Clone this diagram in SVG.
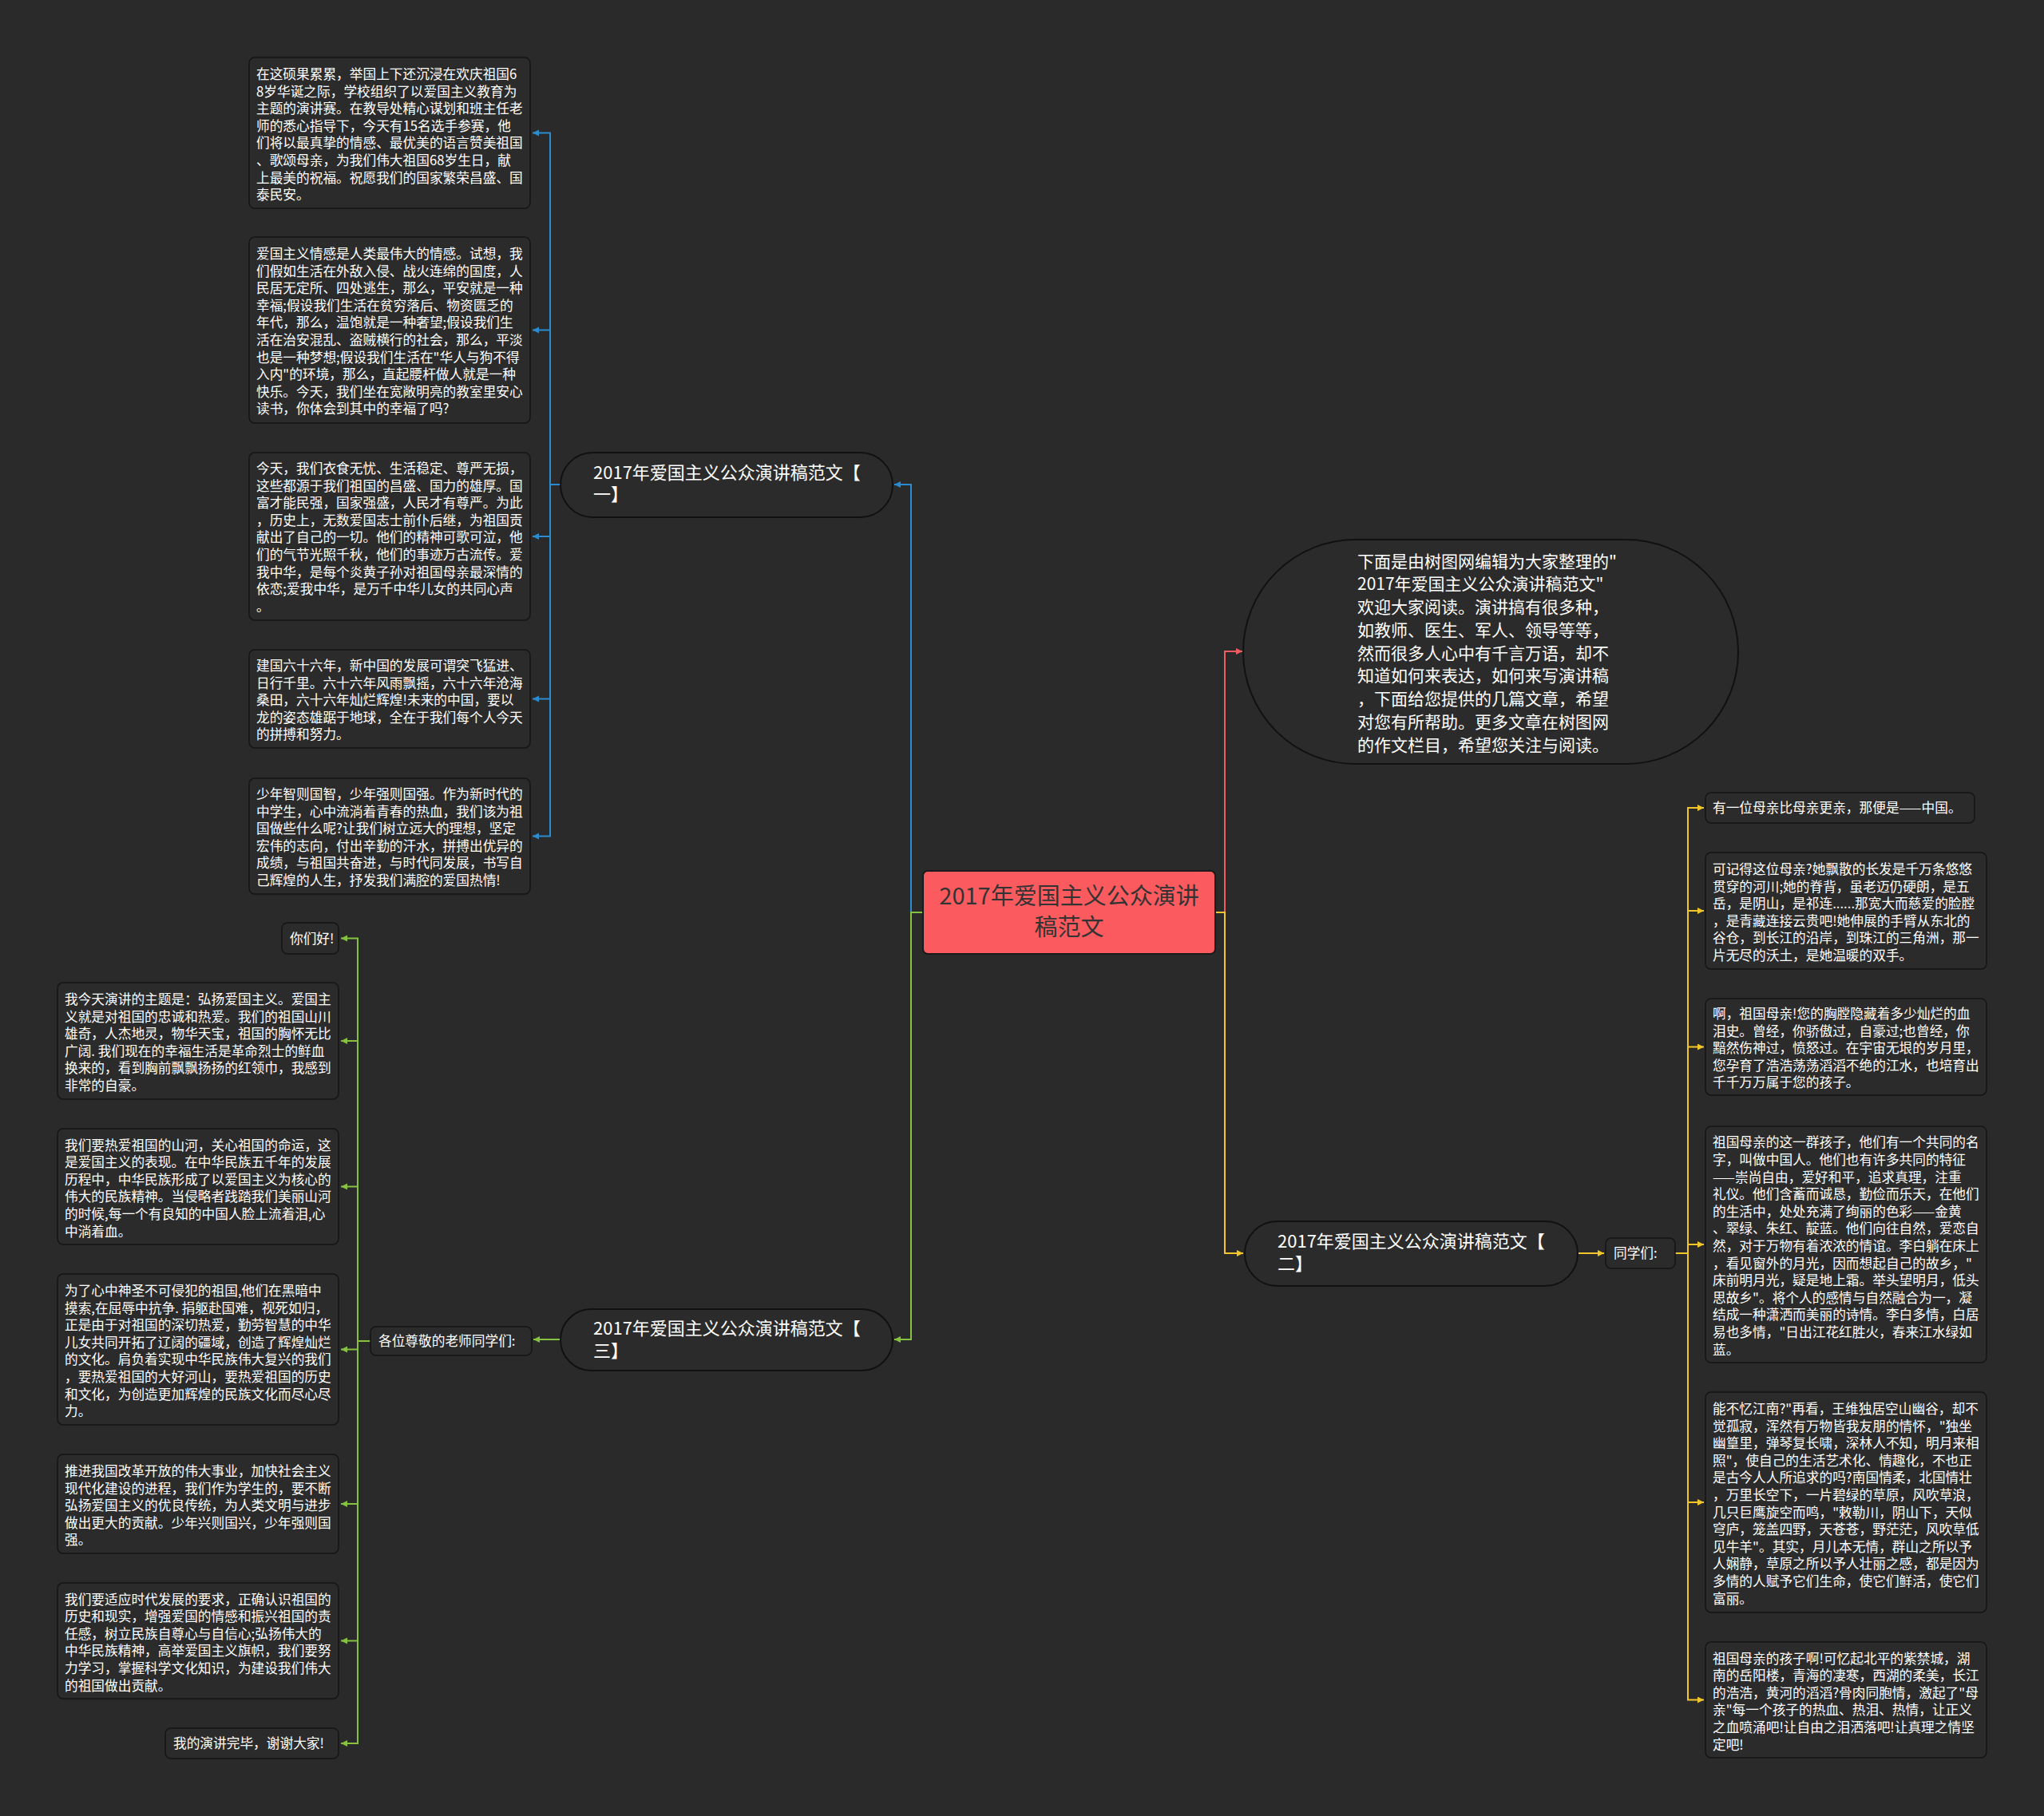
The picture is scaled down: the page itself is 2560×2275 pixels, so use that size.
<svg xmlns="http://www.w3.org/2000/svg" width="2560" height="2275" viewBox="0 0 2560 2275">
<defs>
<style>
.bg{fill:#2a2a2a}
.box{fill:#2b2b2b;stroke:#151515;stroke-width:1.5}
.pill{fill:#2b2b2b;stroke:#111;stroke-width:2}
.t{font-family:"Noto Sans CJK SC","Liberation Sans",sans-serif;font-size:16.7px;fill:#ffffff}
.tb{font-family:"Noto Sans CJK SC","Liberation Sans",sans-serif;font-size:22px;fill:#ffffff}
.ti{font-family:"Noto Sans CJK SC","Liberation Sans",sans-serif;font-size:21px;fill:#ffffff}
.tc{font-family:"Noto Sans CJK SC","Liberation Sans",sans-serif;font-size:29px;fill:#333333}
.c{fill:none;stroke-width:2}
.blue{stroke:#2a8bd0}
.green{stroke:#84c23f}
.yellow{stroke:#f2c52a}
.red{stroke:#ef5d60}
</style>
<marker id="ab" markerUnits="userSpaceOnUse" markerWidth="10" markerHeight="10" refX="8" refY="4" orient="auto"><path d="M0,0 L8,4 L0,8 z" fill="#2a8bd0"/></marker>
<marker id="ag" markerUnits="userSpaceOnUse" markerWidth="10" markerHeight="10" refX="8" refY="4" orient="auto"><path d="M0,0 L8,4 L0,8 z" fill="#84c23f"/></marker>
<marker id="ay" markerUnits="userSpaceOnUse" markerWidth="10" markerHeight="10" refX="8" refY="4" orient="auto"><path d="M0,0 L8,4 L0,8 z" fill="#f2c52a"/></marker>
<marker id="ar" markerUnits="userSpaceOnUse" markerWidth="10" markerHeight="10" refX="8" refY="4" orient="auto"><path d="M0,0 L8,4 L0,8 z" fill="#ef5d60"/></marker>
</defs>
<rect class="bg" x="0" y="0" width="2560" height="2275"/>

<g id="connectors">
<path class="c blue" d="M1156,1143 H1141 V607 H1120" marker-end="url(#ab)"/>
<path class="c green" d="M1156,1143 H1141 V1678 H1120" marker-end="url(#ag)"/>
<path class="c red" d="M1522,1143 H1534 V816 H1556" marker-end="url(#ar)"/>
<path class="c yellow" d="M1522,1143 H1534 V1570 H1557" marker-end="url(#ay)"/>
<path class="c blue" d="M702,607 H689 V166.5 H667" marker-end="url(#ab)"/>
<path class="c blue" d="M702,607 H689 V413.5 H667" marker-end="url(#ab)"/>
<path class="c blue" d="M702,607 H689 V672 H667" marker-end="url(#ab)"/>
<path class="c blue" d="M702,607 H689 V875.5 H667" marker-end="url(#ab)"/>
<path class="c blue" d="M702,607 H689 V1047.5 H667" marker-end="url(#ab)"/>
<path class="c green" d="M702,1678 H668" marker-end="url(#ag)"/>
<path class="c green" d="M464,1680 H448 V1175.5 H427" marker-end="url(#ag)"/>
<path class="c green" d="M464,1680 H448 V1304 H427" marker-end="url(#ag)"/>
<path class="c green" d="M464,1680 H448 V1486.5 H427" marker-end="url(#ag)"/>
<path class="c green" d="M464,1680 H448 V1690.5 H427" marker-end="url(#ag)"/>
<path class="c green" d="M464,1680 H448 V1884 H427" marker-end="url(#ag)"/>
<path class="c green" d="M464,1680 H448 V2055.5 H427" marker-end="url(#ag)"/>
<path class="c green" d="M464,1680 H448 V2184 H427" marker-end="url(#ag)"/>
<path class="c yellow" d="M1976,1570 H2009" marker-end="url(#ay)"/>
<path class="c yellow" d="M2098,1570 H2114 V1012 H2134" marker-end="url(#ay)"/>
<path class="c yellow" d="M2098,1570 H2114 V1141 H2134" marker-end="url(#ay)"/>
<path class="c yellow" d="M2098,1570 H2114 V1311.5 H2134" marker-end="url(#ay)"/>
<path class="c yellow" d="M2098,1570 H2114 V1559 H2134" marker-end="url(#ay)"/>
<path class="c yellow" d="M2098,1570 H2114 V1882 H2134" marker-end="url(#ay)"/>
<path class="c yellow" d="M2098,1570 H2114 V2129.5 H2134" marker-end="url(#ay)"/>
</g>

<g id="root">
<rect x="1156" y="1091" width="366" height="104" rx="6" fill="#fb5b5f" stroke="#1a1a1a" stroke-width="2"/>
<text class="tc" text-anchor="middle"><tspan x="1339" y="1133">2017年爱国主义公众演讲</tspan><tspan x="1339" y="1172">稿范文</tspan></text>
</g>

<g id="branch1">
<rect class="pill" x="702" y="567" width="416" height="81" rx="40.5"/>
<text class="tb"><tspan x="743" y="600">2017年爱国主义公众演讲稿范文【</tspan><tspan x="743" y="627">一】</tspan></text>
</g>
<g id="branch3">
<rect class="pill" x="702" y="1640" width="416" height="77" rx="38.5"/>
<text class="tb"><tspan x="743" y="1672">2017年爱国主义公众演讲稿范文【</tspan><tspan x="743" y="1700">三】</tspan></text>
</g>
<g id="branch2">
<rect class="pill" x="1559" y="1530" width="417" height="81" rx="40.5"/>
<text class="tb"><tspan x="1600" y="1563">2017年爱国主义公众演讲稿范文【</tspan><tspan x="1600" y="1591">二】</tspan></text>
</g>
<g id="intro">
<rect class="pill" x="1557" y="676" width="620" height="281" rx="140.5"/>
<text class="ti"><tspan x="1700" y="710.5">下面是由树图网编辑为大家整理的"</tspan><tspan x="1700" dy="28.75">2017年爱国主义公众演讲稿范文"</tspan><tspan x="1700" dy="28.75">欢迎大家阅读。演讲搞有很多种，</tspan><tspan x="1700" dy="28.75">如教师、医生、军人、领导等等，</tspan><tspan x="1700" dy="28.75">然而很多人心中有千言万语，却不</tspan><tspan x="1700" dy="28.75">知道如何来表达，如何来写演讲稿</tspan><tspan x="1700" dy="28.75">，下面给您提供的几篇文章，希望</tspan><tspan x="1700" dy="28.75">对您有所帮助。更多文章在树图网</tspan><tspan x="1700" dy="28.75">的作文栏目，希望您关注与阅读。</tspan></text>
</g>

<g id="b1-1">
<rect class="box" x="312" y="72" width="352" height="189" rx="7"/>
<text class="t"><tspan x="321" y="99">在这硕果累累，举国上下还沉浸在欢庆祖国6</tspan><tspan x="321" dy="21.6">8岁华诞之际，学校组织了以爱国主义教育为</tspan><tspan x="321" dy="21.6">主题的演讲赛。在教导处精心谋划和班主任老</tspan><tspan x="321" dy="21.6">师的悉心指导下，今天有15名选手参赛，他</tspan><tspan x="321" dy="21.6">们将以最真挚的情感、最优美的语言赞美祖国</tspan><tspan x="321" dy="21.6">、歌颂母亲，为我们伟大祖国68岁生日，献</tspan><tspan x="321" dy="21.6">上最美的祝福。祝愿我们的国家繁荣昌盛、国</tspan><tspan x="321" dy="21.6">泰民安。</tspan></text>
</g>
<g id="b1-2">
<rect class="box" x="312" y="297" width="352" height="233" rx="7"/>
<text class="t"><tspan x="321" y="324">爱国主义情感是人类最伟大的情感。试想，我</tspan><tspan x="321" dy="21.6">们假如生活在外敌入侵、战火连绵的国度，人</tspan><tspan x="321" dy="21.6">民居无定所、四处逃生，那么，平安就是一种</tspan><tspan x="321" dy="21.6">幸福;假设我们生活在贫穷落后、物资匮乏的</tspan><tspan x="321" dy="21.6">年代，那么，温饱就是一种奢望;假设我们生</tspan><tspan x="321" dy="21.6">活在治安混乱、盗贼横行的社会，那么，平淡</tspan><tspan x="321" dy="21.6">也是一种梦想;假设我们生活在"华人与狗不得</tspan><tspan x="321" dy="21.6">入内"的环境，那么，直起腰杆做人就是一种</tspan><tspan x="321" dy="21.6">快乐。今天，我们坐在宽敞明亮的教室里安心</tspan><tspan x="321" dy="21.6">读书，你体会到其中的幸福了吗?</tspan></text>
</g>
<g id="b1-3">
<rect class="box" x="312" y="567" width="352" height="210" rx="7"/>
<text class="t"><tspan x="321" y="593">今天，我们衣食无忧、生活稳定、尊严无损，</tspan><tspan x="321" dy="21.6">这些都源于我们祖国的昌盛、国力的雄厚。国</tspan><tspan x="321" dy="21.6">富才能民强，国家强盛，人民才有尊严。为此</tspan><tspan x="321" dy="21.6">，历史上，无数爱国志士前仆后继，为祖国贡</tspan><tspan x="321" dy="21.6">献出了自己的一切。他们的精神可歌可泣，他</tspan><tspan x="321" dy="21.6">们的气节光照千秋，他们的事迹万古流传。爱</tspan><tspan x="321" dy="21.6">我中华，是每个炎黄子孙对祖国母亲最深情的</tspan><tspan x="321" dy="21.6">依恋;爱我中华，是万千中华儿女的共同心声</tspan><tspan x="321" dy="21.6">。</tspan></text>
</g>
<g id="b1-4">
<rect class="box" x="312" y="814" width="352" height="123" rx="7"/>
<text class="t"><tspan x="321" y="840">建国六十六年，新中国的发展可谓突飞猛进、</tspan><tspan x="321" dy="21.6">日行千里。六十六年风雨飘摇，六十六年沧海</tspan><tspan x="321" dy="21.6">桑田，六十六年灿烂辉煌!未来的中国，要以</tspan><tspan x="321" dy="21.6">龙的姿态雄踞于地球，全在于我们每个人今天</tspan><tspan x="321" dy="21.6">的拼搏和努力。</tspan></text>
</g>
<g id="b1-5">
<rect class="box" x="312" y="975" width="352" height="145" rx="7"/>
<text class="t"><tspan x="321" y="1001">少年智则国智，少年强则国强。作为新时代的</tspan><tspan x="321" dy="21.6">中学生，心中流淌着青春的热血，我们该为祖</tspan><tspan x="321" dy="21.6">国做些什么呢?让我们树立远大的理想，坚定</tspan><tspan x="321" dy="21.6">宏伟的志向，付出辛勤的汗水，拼搏出优异的</tspan><tspan x="321" dy="21.6">成绩，与祖国共奋进，与时代同发展，书写自</tspan><tspan x="321" dy="21.6">己辉煌的人生，抒发我们满腔的爱国热情!</tspan></text>
</g>

<g id="b3-0">
<rect class="box" x="464" y="1662" width="202" height="36" rx="7"/>
<text class="t"><tspan x="474" y="1686">各位尊敬的老师同学们:</tspan></text>
</g>
<g id="b3-1">
<rect class="box" x="353" y="1156" width="71" height="39" rx="7"/>
<text class="t"><tspan x="363" y="1182">你们好!</tspan></text>
</g>
<g id="b3-2">
<rect class="box" x="72" y="1231" width="352" height="146" rx="7"/>
<text class="t"><tspan x="81" y="1258">我今天演讲的主题是：弘扬爱国主义。爱国主</tspan><tspan x="81" dy="21.6">义就是对祖国的忠诚和热爱。我们的祖国山川</tspan><tspan x="81" dy="21.6">雄奇，人杰地灵，物华天宝，祖国的胸怀无比</tspan><tspan x="81" dy="21.6">广阔. 我们现在的幸福生活是革命烈士的鲜血</tspan><tspan x="81" dy="21.6">换来的，看到胸前飘飘扬扬的红领巾，我感到</tspan><tspan x="81" dy="21.6">非常的自豪。</tspan></text>
</g>
<g id="b3-3">
<rect class="box" x="72" y="1414" width="352" height="145" rx="7"/>
<text class="t"><tspan x="81" y="1440.5">我们要热爱祖国的山河，关心祖国的命运，这</tspan><tspan x="81" dy="21.6">是爱国主义的表现。在中华民族五千年的发展</tspan><tspan x="81" dy="21.6">历程中，中华民族形成了以爱国主义为核心的</tspan><tspan x="81" dy="21.6">伟大的民族精神。当侵略者践踏我们美丽山河</tspan><tspan x="81" dy="21.6">的时候,每一个有良知的中国人脸上流着泪,心</tspan><tspan x="81" dy="21.6">中淌着血。</tspan></text>
</g>
<g id="b3-4">
<rect class="box" x="72" y="1596" width="352" height="189" rx="7"/>
<text class="t"><tspan x="81" y="1623">为了心中神圣不可侵犯的祖国,他们在黑暗中</tspan><tspan x="81" dy="21.6">摸索,在屈辱中抗争. 捐躯赴国难，视死如归，</tspan><tspan x="81" dy="21.6">正是由于对祖国的深切热爱，勤劳智慧的中华</tspan><tspan x="81" dy="21.6">儿女共同开拓了辽阔的疆域，创造了辉煌灿烂</tspan><tspan x="81" dy="21.6">的文化。肩负着实现中华民族伟大复兴的我们</tspan><tspan x="81" dy="21.6">，要热爱祖国的大好河山，要热爱祖国的历史</tspan><tspan x="81" dy="21.6">和文化，为创造更加辉煌的民族文化而尽心尽</tspan><tspan x="81" dy="21.6">力。</tspan></text>
</g>
<g id="b3-5">
<rect class="box" x="72" y="1822" width="352" height="124" rx="7"/>
<text class="t"><tspan x="81" y="1849">推进我国改革开放的伟大事业，加快社会主义</tspan><tspan x="81" dy="21.6">现代化建设的进程，我们作为学生的，要不断</tspan><tspan x="81" dy="21.6">弘扬爱国主义的优良传统，为人类文明与进步</tspan><tspan x="81" dy="21.6">做出更大的贡献。少年兴则国兴，少年强则国</tspan><tspan x="81" dy="21.6">强。</tspan></text>
</g>
<g id="b3-6">
<rect class="box" x="72" y="1983" width="352" height="145" rx="7"/>
<text class="t"><tspan x="81" y="2009.5">我们要适应时代发展的要求，正确认识祖国的</tspan><tspan x="81" dy="21.6">历史和现实，增强爱国的情感和振兴祖国的责</tspan><tspan x="81" dy="21.6">任感，树立民族自尊心与自信心;弘扬伟大的</tspan><tspan x="81" dy="21.6">中华民族精神，高举爱国主义旗帜，我们要努</tspan><tspan x="81" dy="21.6">力学习，掌握科学文化知识，为建设我们伟大</tspan><tspan x="81" dy="21.6">的祖国做出贡献。</tspan></text>
</g>
<g id="b3-7">
<rect class="box" x="207" y="2165" width="217" height="38" rx="7"/>
<text class="t"><tspan x="217" y="2190">我的演讲完毕，谢谢大家!</tspan></text>
</g>

<g id="b2-0">
<rect class="box" x="2011" y="1551" width="87" height="38" rx="7"/>
<text class="t"><tspan x="2021" y="1576">同学们:</tspan></text>
</g>
<g id="b2-1">
<rect class="box" x="2136" y="993" width="337" height="38" rx="7"/>
<text class="t"><tspan x="2145" y="1018">有一位母亲比母亲更亲，那便是——中国。</tspan></text>
</g>
<g id="b2-2">
<rect class="box" x="2136" y="1068" width="352" height="146" rx="7"/>
<text class="t"><tspan x="2145" y="1095">可记得这位母亲?她飘散的长发是千万条悠悠</tspan><tspan x="2145" dy="21.6">贯穿的河川;她的脊背，虽老迈仍硬朗，是五</tspan><tspan x="2145" dy="21.6">岳，是阴山，是祁连......那宽大而慈爱的脸膛</tspan><tspan x="2145" dy="21.6">，是青藏连接云贵吧!她伸展的手臂从东北的</tspan><tspan x="2145" dy="21.6">谷仓，到长江的沿岸，到珠江的三角洲，那一</tspan><tspan x="2145" dy="21.6">片无尽的沃土，是她温暖的双手。</tspan></text>
</g>
<g id="b2-3">
<rect class="box" x="2136" y="1251" width="352" height="121" rx="7"/>
<text class="t"><tspan x="2145" y="1276">啊，祖国母亲!您的胸膛隐藏着多少灿烂的血</tspan><tspan x="2145" dy="21.6">泪史。曾经，你骄傲过，自豪过;也曾经，你</tspan><tspan x="2145" dy="21.6">黯然伤神过，愤怒过。在宇宙无垠的岁月里，</tspan><tspan x="2145" dy="21.6">您孕育了浩浩荡荡滔滔不绝的江水，也培育出</tspan><tspan x="2145" dy="21.6">千千万万属于您的孩子。</tspan></text>
</g>
<g id="b2-4">
<rect class="box" x="2136" y="1411" width="352" height="296" rx="7"/>
<text class="t"><tspan x="2145" y="1437.4">祖国母亲的这一群孩子，他们有一个共同的名</tspan><tspan x="2145" dy="21.6">字，叫做中国人。他们也有许多共同的特征</tspan><tspan x="2145" dy="21.6">——崇尚自由，爱好和平，追求真理，注重</tspan><tspan x="2145" dy="21.6">礼仪。他们含蓄而诚恳，勤俭而乐天，在他们</tspan><tspan x="2145" dy="21.6">的生活中，处处充满了绚丽的色彩——金黄</tspan><tspan x="2145" dy="21.6">、翠绿、朱红、靛蓝。他们向往自然，爱恋自</tspan><tspan x="2145" dy="21.6">然，对于万物有着浓浓的情谊。李白躺在床上</tspan><tspan x="2145" dy="21.6">，看见窗外的月光，因而想起自己的故乡，"</tspan><tspan x="2145" dy="21.6">床前明月光，疑是地上霜。举头望明月，低头</tspan><tspan x="2145" dy="21.6">思故乡"。将个人的感情与自然融合为一，凝</tspan><tspan x="2145" dy="21.6">结成一种潇洒而美丽的诗情。李白多情，白居</tspan><tspan x="2145" dy="21.6">易也多情，"日出江花红胜火，春来江水绿如</tspan><tspan x="2145" dy="21.6">蓝。</tspan></text>
</g>
<g id="b2-5">
<rect class="box" x="2136" y="1744" width="352" height="276" rx="7"/>
<text class="t"><tspan x="2145" y="1771">能不忆江南?"再看，王维独居空山幽谷，却不</tspan><tspan x="2145" dy="21.6">觉孤寂，浑然有万物皆我友朋的情怀，"独坐</tspan><tspan x="2145" dy="21.6">幽篁里，弹琴复长啸，深林人不知，明月来相</tspan><tspan x="2145" dy="21.6">照"，使自己的生活艺术化、情趣化，不也正</tspan><tspan x="2145" dy="21.6">是古今人人所追求的吗?南国情柔，北国情壮</tspan><tspan x="2145" dy="21.6">，万里长空下，一片碧绿的草原，风吹草浪，</tspan><tspan x="2145" dy="21.6">几只巨鹰旋空而鸣，"敕勒川，阴山下，天似</tspan><tspan x="2145" dy="21.6">穹庐，笼盖四野，天苍苍，野茫茫，风吹草低</tspan><tspan x="2145" dy="21.6">见牛羊"。其实，月儿本无情，群山之所以予</tspan><tspan x="2145" dy="21.6">人娴静，草原之所以予人壮丽之感，都是因为</tspan><tspan x="2145" dy="21.6">多情的人赋予它们生命，使它们鲜活，使它们</tspan><tspan x="2145" dy="21.6">富丽。</tspan></text>
</g>
<g id="b2-6">
<rect class="box" x="2136" y="2057" width="352" height="145" rx="7"/>
<text class="t"><tspan x="2145" y="2083.5">祖国母亲的孩子啊!可忆起北平的紫禁城，湖</tspan><tspan x="2145" dy="21.6">南的岳阳楼，青海的凄寒，西湖的柔美，长江</tspan><tspan x="2145" dy="21.6">的浩浩，黄河的滔滔?骨肉同胞情，激起了"母</tspan><tspan x="2145" dy="21.6">亲"每一个孩子的热血、热泪、热情，让正义</tspan><tspan x="2145" dy="21.6">之血喷涌吧!让自由之泪洒落吧!让真理之情坚</tspan><tspan x="2145" dy="21.6">定吧!</tspan></text>
</g>
</svg>
